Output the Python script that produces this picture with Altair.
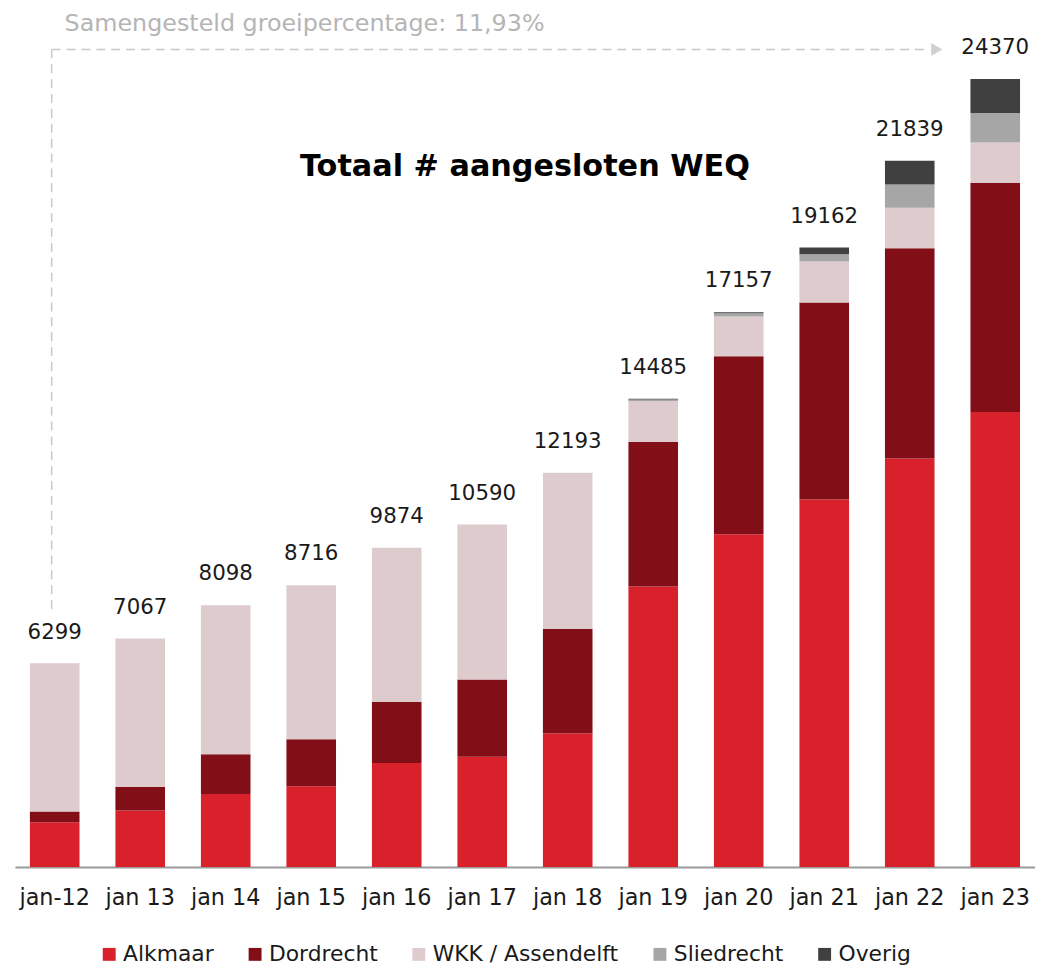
import altair as alt
import pandas as pd

categories = ["jan-12", "jan 13", "jan 14", "jan 15", "jan 16", "jan 17",
              "jan 18", "jan 19", "jan 20", "jan 21", "jan 22", "jan 23"]
series_names = ["Alkmaar", "Dordrecht", "WKK / Assendelft", "Sliedrecht", "Overig"]
series_colors = ["#D9212C", "#820F18", "#DECBCE", "#A6A6A6", "#404040"]

alkmaar = [1386, 1747, 2259, 2496, 3214, 3410, 4138, 8679, 10290, 11369, 12632, 14071]
dordrecht = [330, 739, 1232, 1458, 1892, 2391, 3226, 4467, 5506, 6091, 6501, 7086]
wkk = [4583, 4581, 4607, 4762, 4768, 4789, 4829, 1263, 1232, 1263, 1254, 1251]
sliedrecht = [0, 0, 0, 0, 0, 0, 0, 50, 100, 225, 718, 906]
overig = [0, 0, 0, 0, 0, 0, 0, 26, 29, 214, 734, 1056]
totals = [6299, 7067, 8098, 8716, 9874, 10590, 12193, 14485, 17157, 19162, 21839, 24370]

title_text = "Totaal # aangesloten WEQ"
growth_text = "Samengesteld groeipercentage: 11,93%"

rows = []
for idx, (name, vals) in enumerate(zip(series_names, [alkmaar, dordrecht, wkk, sliedrecht, overig])):
    for cat, v in zip(categories, vals):
        rows.append({"maand": cat, "reeks": name, "waarde": v, "volgorde": idx})
df = pd.DataFrame(rows)
tdf = pd.DataFrame({"maand": categories, "totaal": totals})
ann = pd.DataFrame({"k": [0]})

FONT = "DejaVu Sans"
yscale = alt.Scale(domain=[0, 26450], nice=False, zero=True)
xenc = alt.X("maand:N", sort=categories,
             scale=alt.Scale(paddingInner=0.42, paddingOuter=0.175),
             axis=alt.Axis(title=None, labelAngle=0, ticks=False, labelFontSize=22.5,
                           labelFont=FONT, labelColor="#1a1a1a", labelPadding=20,
                           domainColor="#9a9a9a", domainWidth=2, grid=False))

bars = alt.Chart(df).mark_bar().encode(
    x=xenc,
    y=alt.Y("waarde:Q", stack="zero", scale=yscale, axis=None),
    color=alt.Color("reeks:N", sort=series_names,
                    scale=alt.Scale(domain=series_names, range=series_colors),
                    legend=alt.Legend(title=None, orient="none", legendX=84, legendY=939,
                                      direction="horizontal", columns=5,
                                      symbolType="square", symbolSize=169,
                                      symbolStrokeWidth=0, labelFontSize=22,
                                      labelFont=FONT, labelColor="#1a1a1a",
                                      labelLimit=0,
                                      labelOffset=3, columnPadding=30, padding=0)),
    order=alt.Order("volgorde:Q", sort="ascending"),
)

labels = alt.Chart(tdf).mark_text(dy=-31, baseline="middle", fontSize=21.5, font=FONT,
                                  color="#1a1a1a").encode(
    x=alt.X("maand:N", sort=categories),
    y=alt.Y("totaal:Q", scale=yscale, axis=None),
    text=alt.Text("totaal:Q", format="d"),
)

hline = alt.Chart(ann).mark_rule(color="#c8c8c8", strokeWidth=1.5, strokeDash=[9, 6]).encode(
    x=alt.value(37), x2=alt.value(922), y=alt.value(38))
vline = alt.Chart(ann).mark_rule(color="#c8c8c8", strokeWidth=1.5, strokeDash=[9, 6]).encode(
    x=alt.value(37), y=alt.value(38), y2=alt.value(607))
arrow = alt.Chart(ann).mark_point(shape="triangle-right", filled=True, size=170,
                                  color="#d0d0d0", opacity=1).encode(
    x=alt.value(929), y=alt.value(38))
growth = alt.Chart(ann).mark_text(align="left", baseline="middle", fontSize=24, font=FONT,
                                  color="#b5b5b5").encode(
    x=alt.value(50), y=alt.value(12), text=alt.value(growth_text))
title = alt.Chart(ann).mark_text(align="center", baseline="middle", fontSize=30.5,
                                 fontWeight="bold", font=FONT, color="#000000").encode(
    x=alt.value(514), y=alt.value(157), text=alt.value(title_text))

chart = alt.layer(bars, labels, hline, vline, arrow, growth, title).properties(
    width=1028, height=862,
    autosize=alt.AutoSizeParams(type="none"),
    padding={"left": 7, "top": 0, "right": 0, "bottom": 98},
).configure_view(strokeWidth=0)

chart.save("out.html", embed_options={"renderer": "svg", "actions": False})
